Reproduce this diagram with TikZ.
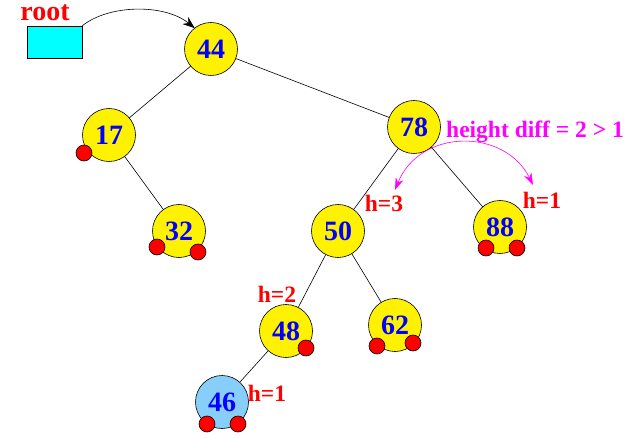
\documentclass[tikz,border=0pt]{standalone}
\usepackage{fontspec}
\setmainfont{Liberation Serif}
\usetikzlibrary{arrows.meta}
\definecolor{boxcyan}{RGB}{0,255,255}
\definecolor{leafblue}{RGB}{135,206,250}
\definecolor{diffpink}{RGB}{255,0,255}
\tikzset{
treenode/.style = {circle, draw, fill=yellow, minimum size=#1, inner sep=0pt, outer sep=0pt,
  text=blue, font=\fontsize{28}{28}\selectfont\bfseries},
treenode/.default = 53pt, % size of the circle diameter
nil/.style = {circle, draw, fill=red, minimum size=16pt, inner sep=0pt},
hlabel/.style = {text=red, font=\fontsize{23.5}{23.5}\selectfont\bfseries, inner sep=0pt}
}
\tikzset{lb/.style={fill=leafblue}}
\begin{document}
\begin{tikzpicture}[x=1pt, y=-1pt, line width=0.6pt]
  \useasboundingbox (0,0) rectangle (637,438);
  % root pointer
  \node [hlabel, font=\fontsize{28}{28}\selectfont\bfseries] (rootlabel) at (45,13) {root};
  \node [draw, fill=boxcyan, minimum width=55pt, minimum height=32pt, inner sep=0pt] (rootbox) at (54.5,42) {};
  % tree
  \node [treenode] (n44) at (211,49) {44};
  \node [treenode] (n17) at (109,135) {17};
  \node [treenode] (n32) at (179,231) {32};
  \node [treenode] (n78) at (414,127) {78};
  \node [treenode] (n50) at (338,231) {50};
  \node [treenode] (n88) at (500,227) {88};
  \node [treenode] (n48) at (286,331) {48};
  \node [treenode] (n62) at (395,325) {62};
  \node [treenode, lb] (n46) at (222,402) {46};
  \draw (n44) -- (n17);
  \draw (n44) -- (n78);
  \draw (n17) -- (n32);
  \draw (n78) -- (n50);
  \draw (n78) -- (n88);
  \draw (n50) -- (n48);
  \draw (n50) -- (n62);
  \draw (n48) -- (n46);
  % empty children
  \node [nil] (e17) at (84,153) {};
  \node [nil] (e32a) at (157,247) {};
  \node [nil] (e32b) at (198,252) {};
  \node [nil] (e88a) at (486,248) {};
  \node [nil] (e88b) at (517,248) {};
  \node [nil] (e48) at (306,348) {};
  \node [nil] (e62a) at (377,346) {};
  \node [nil] (e62b) at (413,343) {};
  \node [nil] (e46a) at (207,424) {};
  \node [nil] (e46b) at (238,424) {};
  \draw [-{Stealth[length=12pt,width=9pt]}] (rootbox.north east) .. controls (110,4) and (165,4) .. (n44.128);
  % heights
  \node [hlabel] (h3) at (384,203) {h=3};
  \node [hlabel] (h1r) at (542,200) {h=1};
  \node [hlabel] (h2) at (277,294) {h=2};
  \node [hlabel] (h1l) at (267,393) {h=1};
  \node [hlabel, text=diffpink] (diff) at (535,132) {height diff = 2 > 1};
  \coordinate (hl) at (395,190);
  \coordinate (hr) at (533,185);
  \draw [diffpink, {Stealth[length=12pt,width=8pt]}-{Stealth[length=12pt,width=8pt]}] (hl) .. controls (420,128) and (505,128) .. (hr);
\end{tikzpicture}
\end{document}
